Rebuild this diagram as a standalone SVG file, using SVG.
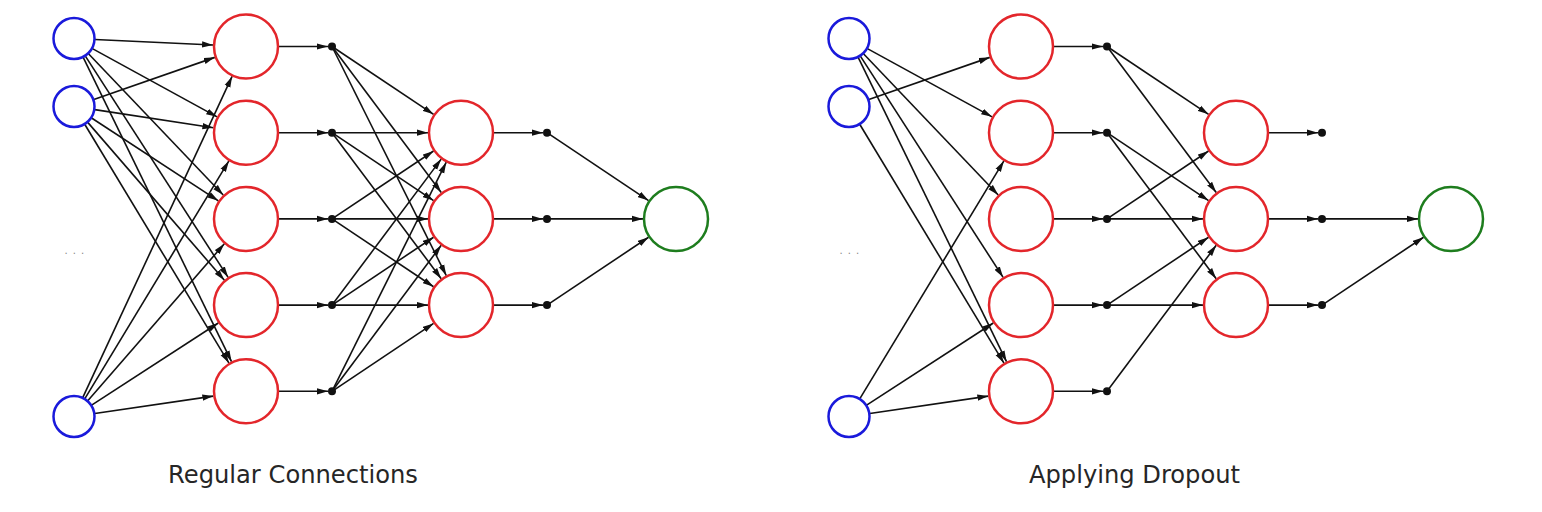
<svg xmlns="http://www.w3.org/2000/svg" width="1542" height="512" viewBox="0 0 1542 512">
<defs>
<marker id="ah" markerUnits="userSpaceOnUse" markerWidth="11" markerHeight="7" refX="11" refY="3.5" orient="auto">
<path d="M0,0.4 L11,3.5 L0,6.6 z" fill="#111"/>
</marker>
</defs>
<style>
.e{stroke:#111;stroke-width:1.6;fill:none;marker-end:url(#ah)}
.in{fill:#fff;stroke:#1a1adb;stroke-width:2.5}
.hd{fill:#fff;stroke:#e3262b;stroke-width:2.5}
.out{fill:#fff;stroke:#1e7d1e;stroke-width:2.5}
.dot{fill:#111}
.lbl{font-family:"DejaVu Sans",sans-serif;font-size:24.2px;fill:#262626;text-anchor:middle}
.ell{font-family:"DejaVu Sans",sans-serif;font-size:10px;fill:#888;letter-spacing:5.1px}
</style>
<rect width="1542" height="512" fill="#fff"/>
<g id="connectors">
<!-- left: inputs to hidden1 -->
<line class="e" x1="94.98" y1="39.48" x2="213.04" y2="44.97"/>
<line class="e" x1="92.42" y1="48.59" x2="217.06" y2="116.85"/>
<line class="e" x1="88.49" y1="53.70" x2="223.23" y2="195.02"/>
<line class="e" x1="85.38" y1="56.15" x2="228.11" y2="277.37"/>
<line class="e" x1="83.20" y1="57.38" x2="231.54" y2="361.64"/>
<line class="e" x1="93.83" y1="99.58" x2="214.84" y2="57.37"/>
<line class="e" x1="94.76" y1="109.66" x2="213.38" y2="127.73"/>
<line class="e" x1="91.58" y1="117.99" x2="218.38" y2="200.85"/>
<line class="e" x1="87.75" y1="122.37" x2="224.39" y2="280.16"/>
<line class="e" x1="84.86" y1="124.48" x2="228.94" y2="363.05"/>
<line class="e" x1="82.85" y1="397.46" x2="232.09" y2="76.42"/>
<line class="e" x1="84.88" y1="398.54" x2="228.90" y2="160.92"/>
<line class="e" x1="87.79" y1="400.66" x2="224.33" y2="243.79"/>
<line class="e" x1="91.63" y1="405.08" x2="218.30" y2="323.04"/>
<line class="e" x1="94.78" y1="413.45" x2="213.35" y2="396.09"/>
<!-- left: hidden1 to dots -->
<line class="e" x1="279" y1="46.5" x2="328" y2="46.5"/>
<line class="e" x1="279" y1="132.7" x2="328" y2="132.7"/>
<line class="e" x1="279" y1="218.9" x2="328" y2="218.9"/>
<line class="e" x1="279" y1="305.1" x2="328" y2="305.1"/>
<line class="e" x1="279" y1="391.3" x2="328" y2="391.3"/>
<!-- left: dots to hidden2 -->
<line class="e" x1="332" y1="46.5" x2="433.56" y2="114.37"/>
<line class="e" x1="332" y1="46.5" x2="441.23" y2="192.48"/>
<line class="e" x1="332" y1="46.5" x2="446.27" y2="275.57"/>
<line class="e" x1="332" y1="132.7" x2="428" y2="132.7"/>
<line class="e" x1="332" y1="132.7" x2="433.56" y2="200.57"/>
<line class="e" x1="332" y1="132.7" x2="441.23" y2="278.68"/>
<line class="e" x1="332" y1="218.9" x2="433.56" y2="151.03"/>
<line class="e" x1="332" y1="218.9" x2="428" y2="218.9"/>
<line class="e" x1="332" y1="218.9" x2="433.56" y2="286.77"/>
<line class="e" x1="332" y1="305.1" x2="441.23" y2="159.12"/>
<line class="e" x1="332" y1="305.1" x2="433.56" y2="237.23"/>
<line class="e" x1="332" y1="305.1" x2="428" y2="305.1"/>
<line class="e" x1="332" y1="391.3" x2="446.27" y2="162.23"/>
<line class="e" x1="332" y1="391.3" x2="441.23" y2="245.32"/>
<line class="e" x1="332" y1="391.3" x2="433.56" y2="323.43"/>
<!-- left: hidden2 to dots -->
<line class="e" x1="494" y1="132.7" x2="543" y2="132.7"/>
<line class="e" x1="494" y1="218.9" x2="543" y2="218.9"/>
<line class="e" x1="494" y1="305.1" x2="543" y2="305.1"/>
<!-- left: dots to output -->
<line class="e" x1="547" y1="132.7" x2="648.56" y2="200.57"/>
<line class="e" x1="547" y1="218.9" x2="643" y2="218.9"/>
<line class="e" x1="547" y1="305.1" x2="648.56" y2="237.23"/>

<!-- right: inputs to hidden1 -->
<line class="e" x1="867.42" y1="48.59" x2="992.06" y2="116.85"/>
<line class="e" x1="863.49" y1="53.70" x2="998.23" y2="195.02"/>
<line class="e" x1="860.38" y1="56.15" x2="1003.11" y2="277.37"/>
<line class="e" x1="858.20" y1="57.38" x2="1006.54" y2="361.64"/>
<line class="e" x1="868.83" y1="99.58" x2="989.84" y2="57.37"/>
<line class="e" x1="859.86" y1="124.48" x2="1003.94" y2="363.05"/>
<line class="e" x1="859.88" y1="398.54" x2="1003.90" y2="160.92"/>
<line class="e" x1="866.63" y1="405.08" x2="993.30" y2="323.04"/>
<line class="e" x1="869.78" y1="413.45" x2="988.35" y2="396.09"/>
<!-- right: hidden1 to dots -->
<line class="e" x1="1054" y1="46.5" x2="1103" y2="46.5"/>
<line class="e" x1="1054" y1="132.7" x2="1103" y2="132.7"/>
<line class="e" x1="1054" y1="218.9" x2="1103" y2="218.9"/>
<line class="e" x1="1054" y1="305.1" x2="1103" y2="305.1"/>
<line class="e" x1="1054" y1="391.3" x2="1103" y2="391.3"/>
<!-- right: dots to hidden2 -->
<line class="e" x1="1107" y1="46.5" x2="1208.56" y2="114.37"/>
<line class="e" x1="1107" y1="46.5" x2="1216.23" y2="192.48"/>
<line class="e" x1="1107" y1="132.7" x2="1208.56" y2="200.57"/>
<line class="e" x1="1107" y1="132.7" x2="1216.23" y2="278.68"/>
<line class="e" x1="1107" y1="218.9" x2="1208.56" y2="151.03"/>
<line class="e" x1="1107" y1="218.9" x2="1203" y2="218.9"/>
<line class="e" x1="1107" y1="305.1" x2="1208.56" y2="237.23"/>
<line class="e" x1="1107" y1="305.1" x2="1203" y2="305.1"/>
<line class="e" x1="1107" y1="391.3" x2="1216.23" y2="245.32"/>
<!-- right: hidden2 to dots -->
<line class="e" x1="1269" y1="132.7" x2="1318" y2="132.7"/>
<line class="e" x1="1269" y1="218.9" x2="1318" y2="218.9"/>
<line class="e" x1="1269" y1="305.1" x2="1318" y2="305.1"/>
<!-- right: dots to output -->
<line class="e" x1="1322" y1="218.9" x2="1418" y2="218.9"/>
<line class="e" x1="1322" y1="305.1" x2="1423.56" y2="237.23"/>
</g>

<!-- left network nodes -->
<g id="L-in1"><circle class="in" cx="74" cy="38.5" r="20.5"/></g>
<g id="L-in2"><circle class="in" cx="74" cy="106.5" r="20.5"/></g>
<g id="L-in3"><circle class="in" cx="74" cy="416.5" r="20.5"/></g>
<g id="L-ellipsis"><text class="ell" x="64.5" y="254">...</text></g>
<g id="L-h1-1"><circle class="hd" cx="246" cy="46.5" r="32"/></g>
<g id="L-h1-2"><circle class="hd" cx="246" cy="132.7" r="32"/></g>
<g id="L-h1-3"><circle class="hd" cx="246" cy="218.9" r="32"/></g>
<g id="L-h1-4"><circle class="hd" cx="246" cy="305.1" r="32"/></g>
<g id="L-h1-5"><circle class="hd" cx="246" cy="391.3" r="32"/></g>
<g id="L-d1-1"><circle class="dot" cx="332" cy="46.5" r="4"/></g>
<g id="L-d1-2"><circle class="dot" cx="332" cy="132.7" r="4"/></g>
<g id="L-d1-3"><circle class="dot" cx="332" cy="218.9" r="4"/></g>
<g id="L-d1-4"><circle class="dot" cx="332" cy="305.1" r="4"/></g>
<g id="L-d1-5"><circle class="dot" cx="332" cy="391.3" r="4"/></g>
<g id="L-h2-1"><circle class="hd" cx="461" cy="132.7" r="32"/></g>
<g id="L-h2-2"><circle class="hd" cx="461" cy="218.9" r="32"/></g>
<g id="L-h2-3"><circle class="hd" cx="461" cy="305.1" r="32"/></g>
<g id="L-d2-1"><circle class="dot" cx="547" cy="132.7" r="4"/></g>
<g id="L-d2-2"><circle class="dot" cx="547" cy="218.9" r="4"/></g>
<g id="L-d2-3"><circle class="dot" cx="547" cy="305.1" r="4"/></g>
<g id="L-out"><circle class="out" cx="676" cy="218.9" r="32"/></g>
<g id="L-title"><text class="lbl" x="293" y="483">Regular Connections</text></g>

<!-- right network nodes -->
<g id="R-in1"><circle class="in" cx="849" cy="38.5" r="20.5"/></g>
<g id="R-in2"><circle class="in" cx="849" cy="106.5" r="20.5"/></g>
<g id="R-in3"><circle class="in" cx="849" cy="416.5" r="20.5"/></g>
<g id="R-ellipsis"><text class="ell" x="839.5" y="254">...</text></g>
<g id="R-h1-1"><circle class="hd" cx="1021" cy="46.5" r="32"/></g>
<g id="R-h1-2"><circle class="hd" cx="1021" cy="132.7" r="32"/></g>
<g id="R-h1-3"><circle class="hd" cx="1021" cy="218.9" r="32"/></g>
<g id="R-h1-4"><circle class="hd" cx="1021" cy="305.1" r="32"/></g>
<g id="R-h1-5"><circle class="hd" cx="1021" cy="391.3" r="32"/></g>
<g id="R-d1-1"><circle class="dot" cx="1107" cy="46.5" r="4"/></g>
<g id="R-d1-2"><circle class="dot" cx="1107" cy="132.7" r="4"/></g>
<g id="R-d1-3"><circle class="dot" cx="1107" cy="218.9" r="4"/></g>
<g id="R-d1-4"><circle class="dot" cx="1107" cy="305.1" r="4"/></g>
<g id="R-d1-5"><circle class="dot" cx="1107" cy="391.3" r="4"/></g>
<g id="R-h2-1"><circle class="hd" cx="1236" cy="132.7" r="32"/></g>
<g id="R-h2-2"><circle class="hd" cx="1236" cy="218.9" r="32"/></g>
<g id="R-h2-3"><circle class="hd" cx="1236" cy="305.1" r="32"/></g>
<g id="R-d2-1"><circle class="dot" cx="1322" cy="132.7" r="4"/></g>
<g id="R-d2-2"><circle class="dot" cx="1322" cy="218.9" r="4"/></g>
<g id="R-d2-3"><circle class="dot" cx="1322" cy="305.1" r="4"/></g>
<g id="R-out"><circle class="out" cx="1451" cy="218.9" r="32"/></g>
<g id="R-title"><text class="lbl" x="1134.5" y="483">Applying Dropout</text></g>
</svg>
